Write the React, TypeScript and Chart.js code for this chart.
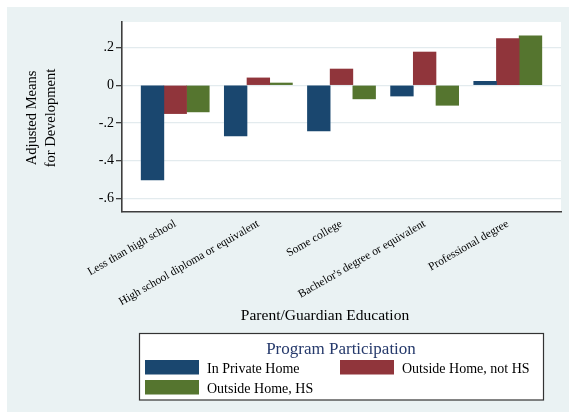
import { useEffect, useRef } from "react";
import { Chart, registerables } from "chart.js";

Chart.register(...registerables);

// Education levels on the x axis
const categories = [
  "Less than high school",
  "High school diploma or equivalent",
  "Some college",
  "Bachelor's degree or equivalent",
  "Professional degree",
];

// Program participation groups
const seriesNames = ["In Private Home", "Outside Home, not HS", "Outside Home, HS"];

// Adjusted means for development, per education level
const privateHome = [-0.501, -0.268, -0.242, -0.057, 0.021];
const outsideNotHS = [-0.15, 0.039, 0.086, 0.176, 0.247];
const outsideHS = [-0.141, 0.012, -0.072, -0.106, 0.262];

// Y axis ticks and their printed labels
const yTickValues = [0.2, 0, -0.2, -0.4, -0.6];
const yTickLabels = [".2", "0", "-.2", "-.4", "-.6"];

const xTitle = "Parent/Guardian Education";
const yTitle = ["Adjusted Means", "for Development"];
const legendTitle = "Program Participation";

const SERIF = "'Liberation Serif', 'Times New Roman', Times, serif";
const BG = "#eaf2f3";
const AXIS = "#3e3e3e";
const GRID = "#e3ebee";
const COLORS = ["#1a476f", "#90353b", "#55752f"];

const W = 569;
const H = 416;

const backdrop = {
  id: "backdrop",
  beforeDraw(chart: any) {
    const { ctx, chartArea } = chart;
    ctx.save();
    ctx.fillStyle = "#ffffff";
    ctx.fillRect(0, 0, W, H);
    ctx.fillStyle = BG;
    ctx.fillRect(7, 7, W - 7, 405);
    ctx.fillStyle = "#ffffff";
    ctx.fillRect(
      chartArea.left,
      chartArea.top,
      chartArea.right - chartArea.left,
      chartArea.bottom - chartArea.top
    );
    ctx.restore();
  },
};

const decorations = {
  id: "decorations",
  afterDraw(chart: any) {
    const { ctx, chartArea } = chart;
    ctx.save();

    // y axis title, two rotated lines
    ctx.fillStyle = "#000";
    ctx.font = `14.5px ${SERIF}`;
    ctx.textAlign = "center";
    ctx.textBaseline = "alphabetic";
    const yMid = (chartArea.top + chartArea.bottom) / 2 + 1;
    ctx.save();
    ctx.translate(0, yMid);
    ctx.rotate(-Math.PI / 2);
    ctx.fillText(yTitle[0], 0, 36);
    ctx.fillText(yTitle[1], 0, 55);
    ctx.restore();

    // x axis title
    ctx.font = `15.5px ${SERIF}`;
    ctx.fillText(xTitle, 325, 320);

    // legend box
    const bx = 139.5;
    const by = 333.5;
    const bw = 404;
    const bh = 66.5;
    ctx.fillStyle = "#ffffff";
    ctx.fillRect(bx, by, bw, bh);
    ctx.strokeStyle = "#333333";
    ctx.lineWidth = 1.2;
    ctx.strokeRect(bx, by, bw, bh);

    ctx.fillStyle = "#25396b";
    ctx.font = `17px ${SERIF}`;
    ctx.textAlign = "center";
    ctx.fillText(legendTitle, 341, 353.5);

    const slots = [
      { x: 145, y: 360 },
      { x: 340, y: 360 },
      { x: 145, y: 380 },
    ];
    ctx.font = `14px ${SERIF}`;
    ctx.textAlign = "left";
    ctx.textBaseline = "alphabetic";
    chart.data.datasets.forEach((ds: any, i: number) => {
      const s = slots[i];
      ctx.fillStyle = ds.backgroundColor;
      ctx.fillRect(s.x, s.y, 54, 14.5);
      ctx.fillStyle = "#000";
      ctx.fillText(ds.label, s.x + 62, s.y + 12.5);
    });

    ctx.restore();
  },
};

export default function App() {
  const ref = useRef<HTMLCanvasElement | null>(null);

  useEffect(() => {
    if (!ref.current) return;
    const series = [privateHome, outsideNotHS, outsideHS];
    const chart = new Chart(ref.current, {
      type: "bar",
      data: {
        datasets: series.map((vals, i) => ({
          label: seriesNames[i],
          data: vals.map((v, j) => ({ x: j, y: v })),
          backgroundColor: COLORS[i],
          borderWidth: 0,
          barThickness: 22.7,
        })),
      },
      options: {
        responsive: false,
        animation: false,
        devicePixelRatio: 1,
        layout: { padding: { left: 0, top: 22, right: 8, bottom: 0 } },
        plugins: {
          legend: { display: false },
          tooltip: { enabled: false },
          title: { display: false },
        },
        scales: {
          x: {
            type: "linear",
            offset: false,
            bounds: "data",
            min: -0.64,
            max: 4.64,
            afterBuildTicks: (scale: any) => {
              scale.ticks = categories.map((_, i) => ({ value: i }));
            },
            afterFit: (scale: any) => {
              scale.height = H - 212;
            },
            grid: { display: false, offset: false },
            border: { display: true, color: AXIS, width: 1.6 },
            ticks: {
              autoSkip: false,
              minRotation: 30,
              maxRotation: 30,
              padding: -3,
              color: "#000",
              font: { family: SERIF, size: 11.5 },
              callback: (v: any) => categories[v] ?? "",
            },
          },
          y: {
            min: -0.671,
            max: 0.335,
            afterBuildTicks: (scale: any) => {
              scale.ticks = yTickValues.map((v) => ({ value: v }));
            },
            afterFit: (scale: any) => {
              scale.width = 122;
            },
            grid: {
              color: GRID,
              lineWidth: 1.3,
              tickColor: AXIS,
              tickLength: 6,
            },
            border: { display: true, color: AXIS, width: 1.6 },
            ticks: {
              padding: 2,
              color: "#000",
              font: { family: SERIF, size: 14 },
              callback: (v: any) => {
                const k = yTickValues.findIndex((t) => Math.abs(t - v) < 1e-9);
                return k >= 0 ? yTickLabels[k] : "";
              },
            },
          },
        },
      },
      plugins: [backdrop, decorations],
    } as any);
    return () => chart.destroy();
  }, []);

  return (
    <div style={{ position: "absolute", left: 0, top: 0, width: W, height: H }}>
      <canvas ref={ref} width={W} height={H} style={{ display: "block" }} />
    </div>
  );
}
